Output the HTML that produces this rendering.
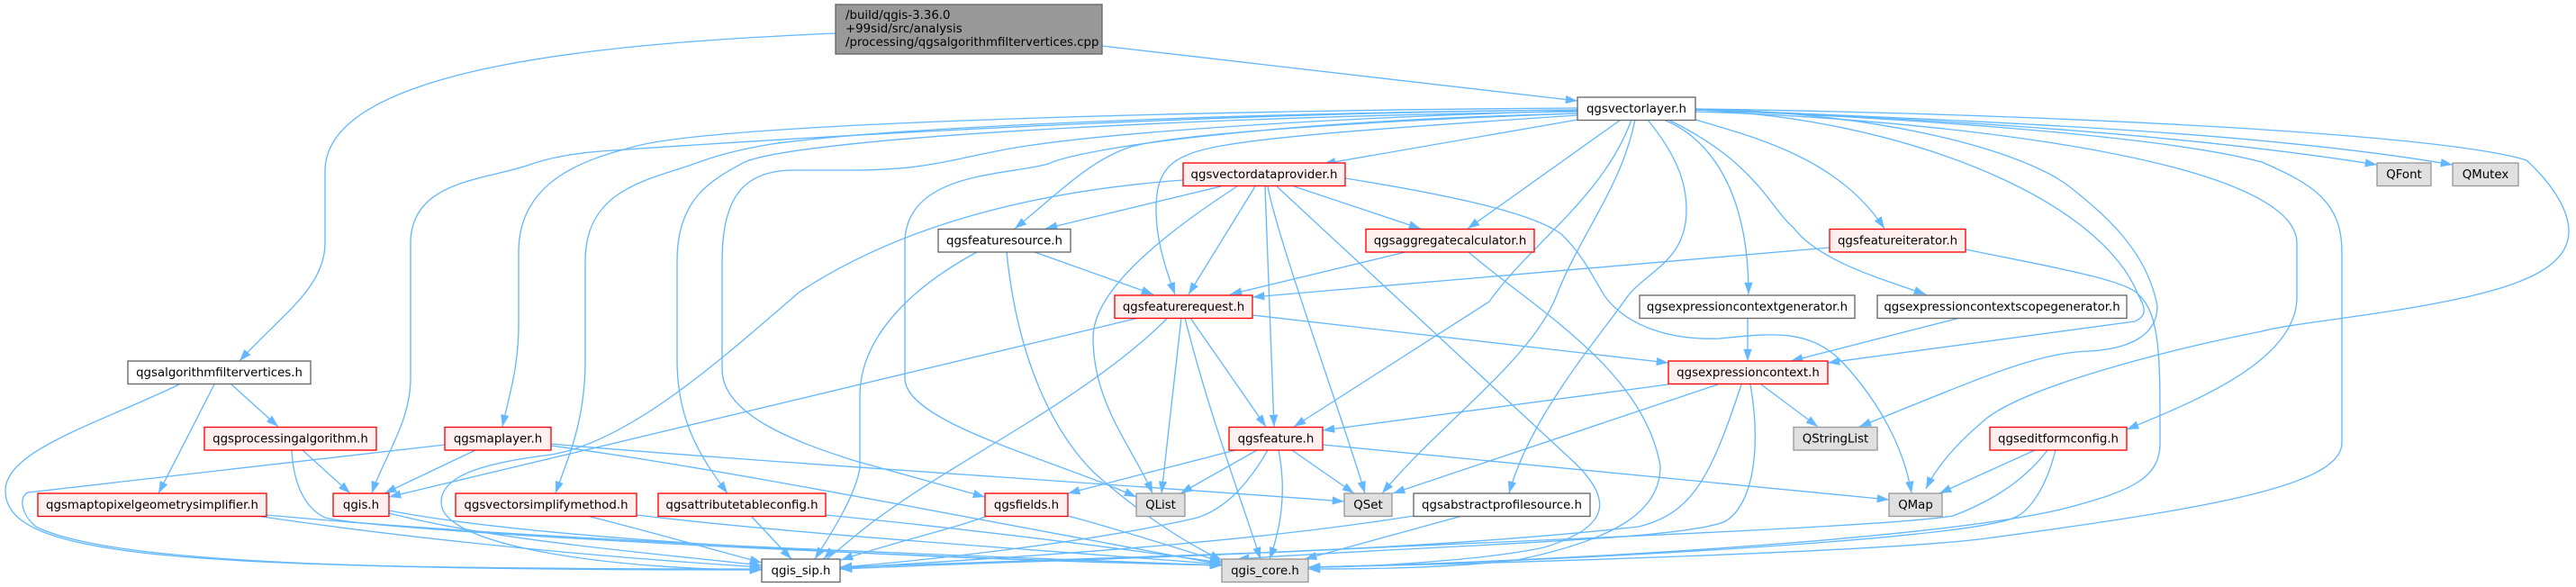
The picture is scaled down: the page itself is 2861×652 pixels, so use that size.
<!DOCTYPE html>
<html><head><meta charset="utf-8"><style>
html,body{margin:0;padding:0;background:#fff;width:2861px;height:652px;overflow:hidden}
svg{display:block}
text{font-family:"DejaVu Sans",sans-serif;font-size:13.33px;fill:#000;text-anchor:middle}
.e path{fill:none;stroke:#63b8ff;stroke-width:1.33;marker-end:url(#a)}
.w{fill:#fff;stroke:#666;stroke-width:1.33}
.r{fill:#fff0f0;stroke:#f00;stroke-width:1.33}
.g{fill:#e0e0e0;stroke:#999;stroke-width:1.33}
</style></head><body>
<svg width="2861" height="652" viewBox="0 0 2861 652" xmlns="http://www.w3.org/2000/svg">
<defs><marker id="a" markerUnits="userSpaceOnUse" markerWidth="16" markerHeight="12" refX="13.3" refY="5" orient="auto"><path d="M0,0.33 L13.3,5 L0,9.67 Z" fill="#63b8ff"/></marker></defs>
<g class="e">
<path d="M928,37 C700,47 361,70 361,190 L361,270 C361,320 310,352 266,401"/>
<path d="M1224,51 L1752,112"/>
<path d="M199,427 C110,470 6,500 6,545 C6,620 200,632 846,632"/>
<path d="M238,427 L176,548"/>
<path d="M257,427 L309,474"/>
<path d="M336,500 L389,548"/>
<path d="M324,500 C326,540 340,565 361,575 C420,590 1000,620 1357,628"/>
<path d="M528,500 L427,548"/>
<path d="M494,494 L31,547 C20,552 24,572 40,585 C120,625 400,633 846,633"/>
<path d="M612,493 C800,510 1200,535 1493,557"/>
<path d="M612,495 C800,520 1100,580 1357,627"/>
<path d="M285,573 C400,590 600,615 846,630"/>
<path d="M296,572 C600,600 1000,615 1357,628"/>
<path d="M432,570 C550,600 700,612 846,628"/>
<path d="M432,567 C600,600 1000,620 1357,628"/>
<path d="M652,573 C720,590 790,610 846,625"/>
<path d="M707,572 C900,595 1150,610 1357,627"/>
<path d="M834,573 L879,621"/>
<path d="M917,572 C1100,590 1250,610 1357,625"/>
<path d="M1752,122 C1400,125 1000,145 667,168 C640,170 610,175 588,183 C540,200 456,200 456,270 L456,420 C456,470 425,510 413,548"/>
<path d="M1752,120 C1400,122 800,135 704,163 C650,177 576,200 576,280 L576,360 C576,410 565,440 558,474"/>
<path d="M1752,122 C1400,125 1000,140 857,160 C810,168 790,175 771,182 C720,200 650,210 650,290 L650,400 C650,470 630,510 617,548"/>
<path d="M1752,124 C1400,128 900,150 827,180 C790,200 752,220 752,290 L752,400 C752,470 780,510 808,548"/>
<path d="M1752,123 C1500,130 1250,145 1134,163 C1060,175 1040,188 950,189 L882,189 C825,189 802,220 802,290 L802,410 C802,460 880,490 950,512 L1094,552"/>
<path d="M1752,126 C1400,135 1200,165 1164,182 C1120,195 1005,190 1005,270 L1005,420 C1005,470 1170,510 1262,552"/>
<path d="M1752,126 C1500,135 1300,150 1256,163 C1210,178 1175,215 1127,254"/>
<path d="M1752,128 C1500,145 1350,155 1317,173 C1285,185 1284,215 1284,233 C1284,270 1297,305 1305,327"/>
<path d="M1752,133 L1470,182"/>
<path d="M1800,133 L1630,254"/>
<path d="M1812,133 C1780,220 1700,270 1654,335 L1437,474"/>
<path d="M1816,133 C1800,210 1755,260 1728,330 C1700,400 1600,470 1535,548"/>
<path d="M1830,133 C1860,170 1873,200 1873,233 C1873,290 1830,300 1807,330 C1780,370 1700,460 1676,548"/>
<path d="M1883,122 C2100,130 2400,145 2640,183"/>
<path d="M1883,121 C2200,135 2500,145 2724,183"/>
<path d="M1883,121 C2200,125 2700,145 2806,178 C2830,200 2853,230 2853,257 C2853,300 2790,318 2739,330 C2650,350 2550,358 2512,368 C2400,390 2250,430 2206,465 C2170,495 2150,520 2139,543"/>
<path d="M1883,124 C2100,130 2550,170 2551,270 L2551,330 C2551,400 2440,445 2362,477"/>
<path d="M1883,122 C2100,130 2400,150 2512,180 C2570,205 2601,225 2601,280 L2601,492 C2601,540 2450,565 2206,598 C2100,612 1700,625 1453,630"/>
<path d="M1883,122 C2100,130 2330,215 2375,328 C2385,345 2382,352 2371,357 L2030,403"/>
<path d="M1883,121 C2100,125 2250,170 2298,207 C2340,240 2385,280 2396,340 C2396,375 2360,388 2320,390 C2260,392 2200,420 2065,474"/>
<path d="M1883,133 C1960,155 2045,180 2093,254"/>
<path d="M1848,133 C1890,150 1942,200 1942,327"/>
<path d="M1853,133 C1950,180 1965,230 1992,253 C2020,290 2090,310 2139,327"/>
<path d="M1314,200 C1150,212 1000,250 887,325 C800,400 700,490 612,505 C530,515 490,530 490,558 C490,610 700,633 846,633"/>
<path d="M1356,207 L1161,254"/>
<path d="M1437,207 L1578,254"/>
<path d="M1394,207 L1320,327"/>
<path d="M1405,207 L1415,474"/>
<path d="M1374,207 C1300,255 1214,320 1214,375 C1214,450 1260,500 1280,548"/>
<path d="M1408,207 C1420,270 1490,460 1516,548"/>
<path d="M1418,207 L1750,515 C1790,555 1790,585 1715,608 C1650,622 1520,630 1453,630"/>
<path d="M1494,198 C1600,215 1700,235 1734,260 C1760,285 1770,310 1783,330 C1810,365 1860,378 1910,376 C1970,370 2010,365 2047,403 C2090,450 2115,500 2123,548"/>
<path d="M1085,280 C1020,315 955,370 955,440 L955,520 C950,550 925,590 905,621"/>
<path d="M1118,280 C1130,400 1170,480 1215,525 C1260,565 1310,600 1357,622"/>
<path d="M1149,280 L1281,327"/>
<path d="M1561,280 L1366,327"/>
<path d="M1631,280 C1700,340 1826,410 1844,518 C1844,570 1790,600 1685,622 C1600,632 1500,632 1453,632"/>
<path d="M2032,275 L1391,330"/>
<path d="M2183,277 C2270,295 2360,310 2375,327 C2400,350 2399,400 2399,492 C2399,530 2370,545 2292,565 C2150,600 1700,625 1453,630"/>
<path d="M1391,350 L1853,403"/>
<path d="M1322,353 L1406,474"/>
<path d="M1312,353 L1290,548"/>
<path d="M1316,353 C1340,450 1380,560 1400,621"/>
<path d="M1297,353 C1200,450 1040,520 950,595 S925,610 915,621"/>
<path d="M1265,353 L432,552"/>
<path d="M1941,353 L1941,401"/>
<path d="M2177,353 L1989,401"/>
<path d="M1853,427 L1469,478"/>
<path d="M1956,427 L2019,474"/>
<path d="M1908,427 L1547,548"/>
<path d="M1934,427 C1900,530 1880,570 1820,585 C1550,615 1200,620 933,632"/>
<path d="M1944,427 C1955,490 1950,555 1918,578 C1880,600 1600,605 1374,621"/>
<path d="M1372,500 L1186,548"/>
<path d="M1396,500 L1311,548"/>
<path d="M1408,500 C1385,540 1360,565 1330,575 C1200,605 1000,625 933,630"/>
<path d="M1420,500 C1428,540 1425,580 1410,621"/>
<path d="M1435,500 L1504,548"/>
<path d="M1469,494 L2098,555"/>
<path d="M1097,573 C1050,590 1000,600 934,622"/>
<path d="M1186,573 C1250,590 1310,610 1357,624"/>
<path d="M1570,573 C1400,600 1200,615 933,631"/>
<path d="M1624,573 L1449,621"/>
<path d="M2260,500 L2154,548"/>
<path d="M2274,500 C2240,545 2190,565 2169,573 C2100,585 1700,600 1400,614 C1200,622 1000,628 933,630"/>
<path d="M2283,500 C2270,550 2250,570 2237,575 C2180,600 1700,625 1453,630"/>
</g>
<rect class="g" x="928" y="5" width="296" height="55" style="fill:#999;stroke:#666"/>
<text style="text-anchor:start" x="939" y="21">/build/qgis-3.36.0</text>
<text style="text-anchor:start" x="939" y="36">+99sid/src/analysis</text>
<text style="text-anchor:start" x="939" y="51">/processing/qgsalgorithmfiltervertices.cpp</text>
<rect class="w" x="1752" y="108" width="131" height="25.5"/><text x="1817.5" y="125">qgsvectorlayer.h</text>
<rect class="r" x="1314" y="181" width="180" height="25.5"/><text x="1404" y="198">qgsvectordataprovider.h</text>
<rect class="g" x="2640" y="181" width="60" height="25.5"/><text x="2670" y="198">QFont</text>
<rect class="g" x="2724" y="181" width="73" height="25.5"/><text x="2760.5" y="198">QMutex</text>
<rect class="w" x="1042" y="254.5" width="147" height="25.5"/><text x="1115.5" y="271.5">qgsfeaturesource.h</text>
<rect class="r" x="1517" y="254.5" width="187" height="25.5"/><text x="1610.5" y="271.5">qgsaggregatecalculator.h</text>
<rect class="r" x="2032" y="254.5" width="151" height="25.5"/><text x="2107.5" y="271.5">qgsfeatureiterator.h</text>
<rect class="r" x="1238" y="328" width="153" height="25.5"/><text x="1314.5" y="345">qgsfeaturerequest.h</text>
<rect class="w" x="1821" y="328" width="239" height="25.5"/><text x="1940.5" y="345">qgsexpressioncontextgenerator.h</text>
<rect class="w" x="2085" y="328" width="277" height="25.5"/><text x="2223.5" y="345">qgsexpressioncontextscopegenerator.h</text>
<rect class="w" x="142" y="401" width="203" height="25.5"/><text x="243.5" y="418">qgsalgorithmfiltervertices.h</text>
<rect class="r" x="1853" y="401" width="177" height="25.5"/><text x="1941.5" y="418">qgsexpressioncontext.h</text>
<rect class="r" x="227" y="474.5" width="191" height="25.5"/><text x="322.5" y="491.5">qgsprocessingalgorithm.h</text>
<rect class="r" x="494" y="474.5" width="118" height="25.5"/><text x="553" y="491.5">qgsmaplayer.h</text>
<rect class="r" x="1365" y="474.5" width="104" height="25.5"/><text x="1417" y="491.5">qgsfeature.h</text>
<rect class="g" x="1992" y="474.5" width="93" height="25.5"/><text x="2038.5" y="491.5">QStringList</text>
<rect class="r" x="2210" y="474.5" width="152" height="25.5"/><text x="2286" y="491.5">qgseditformconfig.h</text>
<rect class="r" x="42" y="548" width="254" height="25.5"/><text x="169" y="565">qgsmaptopixelgeometrysimplifier.h</text>
<rect class="r" x="370" y="548" width="62" height="25.5"/><text x="401" y="565">qgis.h</text>
<rect class="r" x="506" y="548" width="201" height="25.5"/><text x="606.5" y="565">qgsvectorsimplifymethod.h</text>
<rect class="r" x="731" y="548" width="186" height="25.5"/><text x="824" y="565">qgsattributetableconfig.h</text>
<rect class="r" x="1094" y="548" width="92" height="25.5"/><text x="1140" y="565">qgsfields.h</text>
<rect class="g" x="1262" y="548" width="54" height="25.5"/><text x="1289" y="565">QList</text>
<rect class="g" x="1493" y="548" width="53" height="25.5"/><text x="1519.5" y="565">QSet</text>
<rect class="w" x="1570" y="548" width="196" height="25.5"/><text x="1668" y="565">qgsabstractprofilesource.h</text>
<rect class="g" x="2098" y="548" width="59" height="25.5"/><text x="2127.5" y="565">QMap</text>
<rect class="w" x="846" y="621" width="87" height="25.5"/><text x="889.5" y="638">qgis_sip.h</text>
<rect class="g" x="1357" y="621" width="96" height="25.5"/><text x="1405" y="638">qgis_core.h</text>
</svg>
</body></html>
